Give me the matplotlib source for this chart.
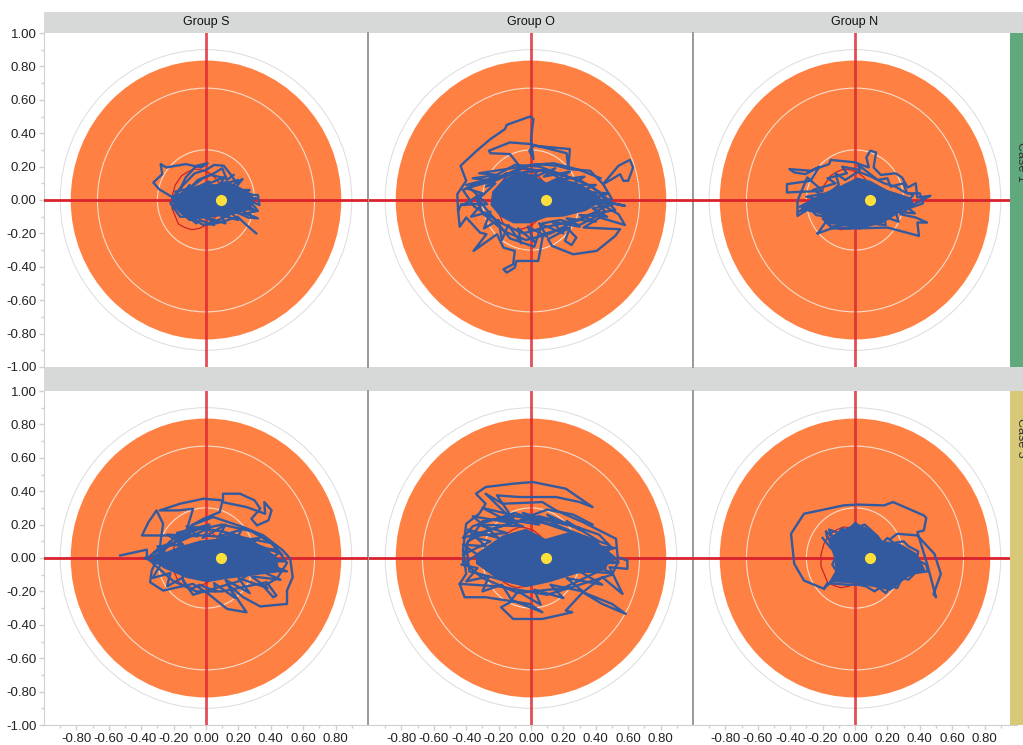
import matplotlib
matplotlib.use("Agg")
import matplotlib.pyplot as plt
from matplotlib.patches import Circle, Rectangle

plt.rcParams['font.family'] = ['Liberation Sans', 'DejaVu Sans']

W, H = 1023, 745
groups = ["Group S", "Group O", "Group N"]
cases = ["Case 1", "Case 3"]
major_ticks = [-0.8, -0.6, -0.4, -0.2, 0.0, 0.2, 0.4, 0.6, 0.8]
y_ticks = [-1.0, -0.8, -0.6, -0.4, -0.2, 0.0, 0.2, 0.4, 0.6, 0.8, 1.0]
minor_ticks = [-0.9, -0.7, -0.5, -0.3, -0.1, 0.1, 0.3, 0.5, 0.7, 0.9]
orange_radius = 0.835
outer_radius = 0.9
mid_radius = 0.67
inner_radius = 0.3
target = (0.09, 0.0)

# red reference loop shared by all panels
ref_loop = [(.145,.08),(.11,.045),(.09,.016),(.086,.096),(.055,.135),(.014,.166),(-.03,.18),(-.068,.186),
            (-.11,.17),(-.15,.146),(-.19,.09),(-.21,.02),(-.21,-.05),(-.17,-.144),(-.13,-.165),(-.088,-.178),
            (-.04,-.17),(.014,-.144),(.055,-.105),(.086,-.064),(.11,-.02),(.12,-.03),(.145,-.095)]

# dense centre of each trace
s1_core = [(-.215,.01),(-.15,.05),(-.06,.085),(0,.095),(.06,.095),(.125,.115),(.215,.075),(.29,.02),(.28,-.055),(.165,-.085),
           (.04,-.105),(-.06,-.115),(-.155,-.085),(-.195,-.035)]
o1_core = [(-.24,.05),(-.17,.125),(-.065,.17),(.015,.15),(.095,.105),(.16,.135),(.28,.105),(.405,.04),(.445,-.005),
           (.34,-.065),(.2,-.1),(.095,-.105),(-.005,-.14),(-.11,-.14),(-.19,-.1),(-.25,-.03)]
n1_core = [(-.33,-.03),(-.2,.04),(-.09,.085),(.015,.135),(.095,.115),(.2,.06),(.345,.015),(.365,-.025),(.26,-.085),
           (.16,-.145),(.015,-.165),(-.15,-.145),(-.21,-.085),(-.335,-.06)]
s3_core = [(-.33,.005),(-.16,.07),(-.035,.105),(.065,.115),(.17,.15),(.29,.105),(.435,.01),(.455,-.085),
           (.29,-.105),(.13,-.125),(.005,-.145),(-.12,-.12),(-.265,-.06)]
o3_core = [(-.34,.025),(-.175,.135),(-.03,.175),(.09,.115),(.235,.155),(.40,.105),(.525,.005),(.44,-.075),
           (.28,-.095),(.115,-.145),(-.03,-.175),(-.195,-.135),(-.34,-.035)]
n3_core = [(-.13,.005),(-.17,.115),(-.09,.165),(.005,.205),(.095,.175),(.16,.105),(.28,.085),(.385,.025),
           (.435,-.075),(.325,-.115),(.22,-.195),(.12,-.175),(.015,-.155),(-.13,-.145),(-.18,-.175),(-.12,-.075)]

# outer excursions of each trace
s1_trace = [(.31,-.20),(.25,-.15),(.195,-.10),(.12,-.125),(.04,-.145),(-.02,-.148),(-.09,-.105),(-.165,-.045),
            (-.205,.01),(-.155,.075),(-.125,.135),(-.06,.205),(.01,.22),(-.03,.195),(-.125,.215),(-.245,.195),
            (-.28,.215),(-.27,.155),(-.325,.105),(-.29,.065),(-.205,.015),(-.14,.09),(-.07,.16),(0,.18),(.05,.21),
            (.11,.205),(.15,.155),(.19,.10),(.225,.125),(.18,.07),(.29,.03),(.32,.03),(.33,-.03),(.27,-.005),
            (.32,-.065),(.25,-.08),(.32,-.11),(.26,-.105),(.18,-.07),(.1,-.11),(.05,-.13),(-.02,-.1),(-.1,-.12),
            (-.17,-.06),(-.2,-.03),(-.05,.12),(.03,.15),(.12,.13)]
s1_scribble = [(-.2,-.05),(-.1,.09),(-.14,.04),(.02,.11),(-.05,.07),(.12,.14),(.08,.09),(.2,.12),(.14,.06),(.27,.06),
               (.2,.02),(.31,.01),(.24,-.02),(.30,-.06),(.2,-.05),(.27,-.09),(.15,-.07),(.2,-.12),(.09,-.09),(.12,-.14),
               (.02,-.11),(.05,-.15),(-.04,-.12),(-.06,-.14),(-.11,-.1),(-.16,-.1),(-.19,-.06),(-.22,-.02),(-.17,.03),
               (-.19,.05),(-.1,.07),(-.02,.13),(.05,.16),(.1,.19),(.13,.12),(.17,.15)]
o1_trace = [(-.45,-.065),(-.455,.035),(-.40,.115),(-.435,.205),(-.335,.295),(-.25,.365),(-.16,.425),(-.15,.45),
            (-.005,.50),(.015,.485),(.005,.405),(0,.355),(.015,.245),(-.01,.295),(.015,.325),(.24,.305),(.23,.185),
            (.22,.28),(-.005,.335),(-.13,.345),(-.26,.295),(-.25,.28),(-.13,.275),(-.08,.215),(-.07,.19),(.035,.215),
            (.16,.205),(.24,.185),(.365,.175),(.445,.095),(.54,.205),(.61,.24),(.63,.195),(.60,.115),(.57,.115),
            (.55,.155),(.50,.125),(.445,.095),(.50,.005),(.41,-.005),(.58,-.035),(.36,.015),(.54,-.085),(.58,-.15),
            (.425,-.105),(.325,-.165),(.55,-.175),(.52,-.215),(.405,-.305),(.26,-.325),(.13,-.275),(.105,-.235),
            (.24,-.165),(.21,-.245),(.25,-.27),(.28,-.225),(.22,-.165),(.075,-.205),(.045,-.365),(-.09,-.365),
            (-.10,-.405),(-.15,-.435),(-.17,-.415),(-.11,-.385),(-.10,-.305),(-.17,-.285),(-.21,-.205),(-.355,-.305),
            (-.275,-.205),(-.315,-.195),(-.40,-.105),(-.44,-.16),(-.45,-.065),(-.43,-.025),(-.27,-.025),(-.38,.075),
            (-.20,.125),(-.40,.09),(-.18,.145),(-.05,.19),(.10,.17),(.3,.12),(.42,.05),(.5,-.02),(.3,-.12),(.1,-.16),
            (-.05,-.2),(-.18,-.14),(-.35,-.04),(-.42,.06),(-.25,.13),(-.1,.21),(.05,.2),(.2,.15),(.38,.08),(.52,-.06),
            (.35,-.09),(.12,-.2),(-.03,-.24),(-.16,-.19),(-.3,-.08),(-.34,.02),(-.22,-.12),(-.13,-.23),(.02,-.28),
            (.07,-.14),(.18,-.12),(.30,-.15),(.46,-.07),(.35,.03),(.22,.11),(.08,.18),(-.1,.16),(-.28,.1)]
o1_scribble = [(-.33,.0),(-.22,.1),(-.28,.08),(-.15,.16),(-.2,.13),(-.05,.2),(-.1,.15),(.05,.18),(.0,.13),(.15,.19),
               (.08,.14),(.24,.17),(.16,.12),(.33,.14),(.25,.09),(.4,.09),(.3,.05),(.48,.04),(.36,.0),(.5,-.03),
               (.38,-.05),(.47,-.1),(.3,-.09),(.4,-.13),(.22,-.11),(.3,-.16),(.13,-.13),(.2,-.2),(.05,-.14),(.1,-.22),
               (-.02,-.16),(.02,-.25),(-.08,-.17),(-.06,-.26),(-.14,-.15),(-.18,-.24),(-.2,-.12),(-.29,-.17),(-.25,-.07),
               (-.37,-.1),(-.3,-.02),(-.42,-.03),(-.3,.04),(-.4,.07),(-.28,.12),(-.36,.13),(-.2,.15),(-.32,.16),(-.12,.19),
               (0,.21),(.14,.22),(.3,.18),(.43,.13)]
n1_trace = [(-.23,-.20),(-.13,-.165),(.015,-.17),(.20,-.165),(.395,-.215),(.385,-.135),(.445,-.135),(.375,-.105),
            (.28,-.085),(.365,-.025),(.465,.025),(.385,.015),(.375,.10),(.325,.075),(.29,.135),(.25,.16),(.16,.15),
            (.115,.195),(.13,.285),(.095,.295),(.07,.255),(.085,.195),(.025,.215),(.005,.225),(-.15,.24),(-.16,.215),
            (-.275,.175),(-.405,.185),(-.375,.165),(-.305,.155),(-.22,.20),(-.275,.115),(-.42,.095),(-.42,.045),
            (-.20,.055),(-.295,.135),(-.355,-.005),(-.355,-.095),(-.255,-.035),(-.1,.09),(-.12,.16),(-.06,.12),
            (.02,.17),(.1,.14),(.18,.1),(.25,.08),(.3,.05),(.36,.03),(.28,-.06),(.2,-.11),(.1,-.15),(-.03,-.17),
            (-.14,-.17),(-.2,-.11),(-.15,-.09),(-.23,-.2)]
n1_scribble = [(-.34,-.04),(-.2,.03),(-.26,.06),(-.12,.1),(-.17,.13),(-.05,.16),(-.08,.2),(.03,.18),(.02,.21),(.1,.15),
               (.14,.12),(.2,.13),(.22,.08),(.3,.1),(.32,.04),(.4,.04),(.42,-.02),(.33,-.05),(.37,-.08),(.25,-.07),
               (.27,-.13),(.18,-.1),(.19,-.15),(.08,-.14),(.03,-.17),(-.06,-.15),(-.15,-.16),(-.18,-.1),(-.24,-.09),
               (-.28,-.05),(-.35,-.07),(-.22,.0),(-.3,.02),(-.1,.05),(-.14,-.05),(.02,.1)]
s3_trace = [(-.53,.015),(-.365,.05),(-.365,-.005),(-.285,.065),(-.265,.205),(-.305,.285),(-.355,.215),(-.395,.135),
            (-.285,.135),(-.18,.135),(-.12,.165),(-.08,.295),(-.17,.285),(-.285,.285),(-.16,.325),(-.015,.355),
            (.105,.345),(.105,.385),(.21,.385),(.30,.345),(.335,.295),(.28,.235),(.315,.195),(.385,.225),(.405,.285),
            (.36,.335),(.365,.265),(.25,.305),(.1,.335),(.085,.275),(-.015,.235),(-.09,.195),(.045,.245),(.23,.185),
            (.355,.135),(.475,.045),(.52,-.005),(.535,-.115),(.50,-.195),(.50,-.275),(.335,-.29),(.23,-.235),
            (.13,-.155),(.25,-.325),(.13,-.305),(.015,-.215),(-.08,-.155),(-.265,-.195),(-.345,-.145),(-.335,-.075),
            (-.305,-.015),(-.2,.12),(-.05,.17),(.1,.2),(.28,.16),(.42,.08),(.5,-.03),(.44,-.12),(.355,-.17),
            (.415,-.235),(.435,-.225),(.375,-.145),(.25,-.17),(.1,-.2),(-.06,-.2),(-.2,-.14),(-.33,-.03),(-.25,.08),
            (-.32,.03),(-.1,.14),(.2,.12),(.45,.03),(.2,-.14),(-.08,-.22),(-.14,-.14),(-.18,.15),(.02,.2)]
s3_scribble = [(-.34,-.02),(-.22,.1),(-.26,.05),(-.1,.16),(-.16,.1),(.02,.18),(-.02,.12),(.12,.2),(.08,.13),(.22,.17),
               (.18,.1),(.33,.12),(.25,.07),(.43,.05),(.3,.03),(.49,-.02),(.33,-.02),(.5,-.08),(.32,-.07),(.46,-.13),
               (.28,-.11),(.38,-.18),(.2,-.12),(.27,-.21),(.12,-.13),(.18,-.24),(.05,-.15),(.06,-.2),(-.04,-.16),(-.1,-.19),
               (-.15,-.12),(-.24,-.17),(-.22,-.09),(-.33,-.12),(-.28,-.04),(-.38,.0),(-.25,.03),(-.3,.07),(-.14,.08),
               (-.24,.14),(-.05,.13),(-.12,.19),(.1,.16),(.24,.12),(.4,.09),(.47,.02)]
o3_trace = [(-.44,-.155),(-.40,-.095),(-.42,.045),(-.40,.205),(-.32,.265),(-.28,.325),(-.34,.385),(-.28,.425),
            (-.11,.445),(.01,.455),(.215,.415),(.38,.305),(.30,.335),(.155,.365),(-.07,.365),(-.21,.375),(-.09,.205),
            (-.28,.385),(-.175,.325),(.07,.335),(.155,.285),(.32,.215),(.525,.115),(.535,.005),(.595,-.015),(.595,-.065),
            (.485,-.055),(.565,-.215),(.44,-.115),(.32,-.205),(.44,-.275),(.585,-.335),(.50,-.275),(.32,-.205),(.215,-.315),
            (.255,-.325),(.07,-.365),(-.11,-.365),(-.185,-.295),(-.11,-.255),(.07,-.325),(-.01,-.275),(-.28,-.235),
            (-.41,-.235),(-.44,-.155),(-.2,-.17),(.1,-.22),(.3,-.16),(.5,-.1),(.54,-.02),(.35,.12),(.15,.2),(-.05,.23),
            (-.25,.17),(-.39,.1),(-.42,-.02),(-.3,-.12),(-.08,-.21),(.2,-.18),(.46,-.06),(.48,.08),(.2,.17),(-.1,.27),
            (-.36,.19),(-.42,.12),(-.15,.2),(.05,.25),(.24,.2),(.42,.14),(.5,.06),(.2,-.11),(-.1,-.15),(-.38,-.08),
            (-.4,.08),(-.3,.22),(-.1,.25),(.13,.22),(.3,.18)]
o3_scribble = [(-.42,.02),(-.25,.1),(-.38,.13),(-.15,.15),(-.33,.2),(-.05,.19),(-.2,.24),(.05,.2),(-.05,.27),(.16,.21),
               (.1,.26),(.3,.17),(.22,.22),(.42,.1),(.3,.08),(.52,.06),(.35,.03),(.54,-.03),(.36,-.03),(.5,-.09),(.3,-.08),
               (.44,-.16),(.22,-.12),(.32,-.2),(.12,-.16),(.2,-.24),(.02,-.19),(.06,-.28),(-.08,-.2),(-.12,-.25),(-.18,-.16),
               (-.3,-.2),(-.26,-.11),(-.4,-.14),(-.33,-.06),(-.43,-.04),(-.33,.02),(-.42,.08),(-.28,.07),(-.39,.17),(-.2,.12),
               (-.36,.25),(-.12,.21),(-.3,.3),(-.04,.24),(.1,.29),(.26,.26),(.38,.2)]
n3_trace = [(-.19,-.185),(-.315,-.135),(-.375,-.035),(-.395,.145),(-.315,.265),(-.07,.315),(.015,.32),(.18,.315),
            (.235,.335),(.425,.255),(.44,.24),(.425,.165),(.385,.155),(.445,-.035),(.50,-.235),(.485,-.215),
            (.53,-.095),(.49,.025),(.385,.135),(.26,.145),(.22,.115)]
n3_scribble = [(-.17,.115),(-.18,.16),(-.14,.13),(-.16,.17),(-.1,.15),(-.08,.18),(-.05,.15),(0,.21),(.03,.19),(.06,.2),
               (.1,.165),(.14,.13),(.17,.09),(.2,.12),(.24,.09),(.3,.1),(.33,.07),(.39,.04),(.38,-.01),(.44,-.04),(.45,-.08),
               (.37,-.09),(.33,-.13),(.29,-.12),(.26,-.18),(.22,-.17),(.19,-.21),(.15,-.18),(.12,-.2),(.07,-.17),(.02,-.16),
               (-.05,-.16),(-.17,-.15),(-.19,-.18),(-.1,-.1),(-.14,-.04),(-.11,.03),(-.15,.06),(-.2,.12)]

panels = [[(s1_core, s1_trace, s1_scribble), (o1_core, o1_trace, o1_scribble), (n1_core, n1_trace, n1_scribble)],
          [(s3_core, s3_trace, s3_scribble), (o3_core, o3_trace, o3_scribble), (n3_core, n3_trace, n3_scribble)]]

orange = '#fe8143'
blue = '#335a9f'
red = '#d9222e'
gray_band = '#d7d8d8'
axis_gray = '#d0d0d0'
strip_colors = ['#5fa97c', '#d7c978']
col_px = [(44, 368), (369, 693), (693, 1017)]
row_px = [(33, 367), (391, 725)]

fig = plt.figure(figsize=(W / 100, H / 100), dpi=100, facecolor='white')


def box(left, top, right, bottom):
    return [left / W, 1 - bottom / H, (right - left) / W, (bottom - top) / H]


# strips and bands
bg = fig.add_axes([0, 0, 1, 1], zorder=0)
bg.set_xlim(0, W)
bg.set_ylim(H, 0)
bg.axis('off')
bg.add_patch(Rectangle((44, 12), W - 44, 21, color=gray_band, lw=0))
bg.add_patch(Rectangle((44, 367), W - 44, 24, color=gray_band, lw=0))

for r, (top, bottom) in enumerate(row_px):
    for c, (left, right) in enumerate(col_px):
        ax = fig.add_axes(box(left, top, right, bottom), zorder=1)
        ax.set_xlim(-1, 1)
        ax.set_ylim(-1, 1)
        ax.patch.set_alpha(0)
        for s in ax.spines.values():
            s.set_visible(False)
        core, trace, scribble = panels[r][c]
        ax.add_patch(Circle((0, 0), orange_radius, fc=orange, ec='none', zorder=1))
        ax.add_patch(Circle((0, 0), outer_radius, fc='none', ec='#dcdcdc', lw=0.7, zorder=1))
        ax.add_patch(Circle((0, 0), mid_radius, fc='none', ec='#f6ddcc', lw=0.8, zorder=2))
        ax.add_patch(Circle((0, 0), inner_radius, fc='none', ec='#f6ddcc', lw=0.8, zorder=2))
        ax.axhline(0, color=red, lw=2.0, zorder=3)
        ax.axvline(0, color=red, lw=2.0, alpha=0.8, zorder=3)
        ax.plot(*zip(*ref_loop), color='#c8242c', lw=0.9, zorder=3.5)
        ax.fill(*zip(*core), color=blue, lw=0, zorder=4)
        ax.plot(*zip(*trace), color=blue, lw=1.7, zorder=4, solid_joinstyle='round')
        ax.plot(*zip(*scribble), color=blue, lw=1.7, zorder=4, solid_joinstyle='round')
        ax.plot([target[0]], [target[1]], 'o', color='#fddf3b', ms=8, mec='none', zorder=5)

        ax.set_xticks(major_ticks)
        ax.set_xticks(minor_ticks, minor=True)
        ax.set_yticks(y_ticks)
        ax.set_yticks(minor_ticks, minor=True)
        ax.tick_params(which='major', length=3.5, width=1, color=axis_gray, labelsize=9.5,
                       labelcolor='#222222', pad=2)
        ax.tick_params(which='minor', length=2, width=1, color=axis_gray)
        show_y = c == 0
        show_x = r == 1
        ax.tick_params(axis='y', which='both', left=show_y, labelleft=show_y)
        ax.tick_params(axis='x', which='both', bottom=show_x, labelbottom=show_x)
        ax.set_xticklabels([f'{v:.2f}' for v in major_ticks])
        ax.set_yticklabels([f'{v:.2f}' for v in y_ticks])
        if show_y:
            ax.spines['left'].set_visible(True)
            ax.spines['left'].set_color(axis_gray)
        if show_x:
            ax.spines['bottom'].set_visible(True)
            ax.spines['bottom'].set_color(axis_gray)
        if c < 2:
            ax.spines['right'].set_visible(True)
            ax.spines['right'].set_color('#888888')
            ax.spines['right'].set_linewidth(1.2)

# case strips sit over the right edge of the last column
ov = fig.add_axes([0, 0, 1, 1], zorder=3)
ov.set_xlim(0, W)
ov.set_ylim(H, 0)
ov.axis('off')
for (top, bottom), col in zip(row_px, strip_colors):
    ov.add_patch(Rectangle((1010, top), W - 1010, bottom - top, color=col, lw=0))
for (left, right), g in zip(col_px, groups):
    ov.text((left + right) / 2, 22, g, ha='center', va='center', fontsize=9, color='#111111')
ov.text(1021, 162, cases[0], rotation=270, ha='center', va='center', fontsize=9, color='#333333')
ov.text(1021, 438, cases[1], rotation=270, ha='center', va='center', fontsize=9, color='#333333')

fig.savefig('out.png', dpi=100)
